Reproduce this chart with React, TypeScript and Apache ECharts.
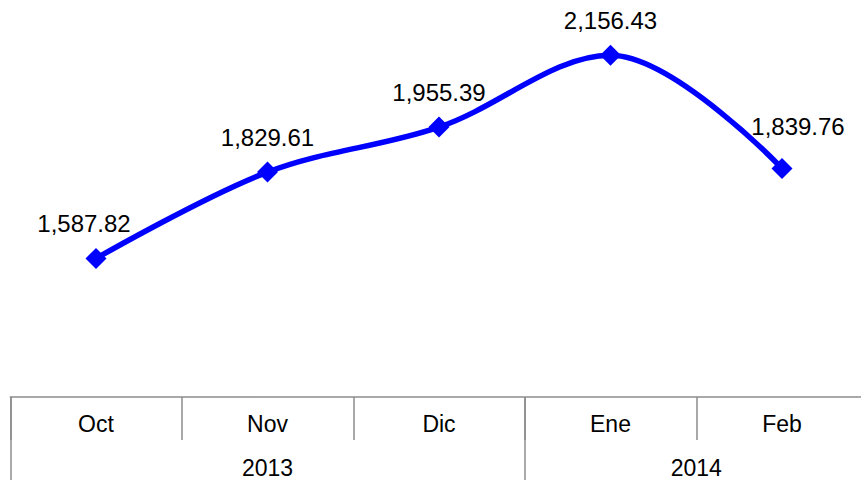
import React, { useEffect, useRef } from "react";
import * as echarts from "echarts";

const months = ["Oct", "Nov", "Dic", "Ene", "Feb"];
const values = [1587.82, 1829.61, 1955.39, 2156.43, 1839.76];
const years = ["2013", "2014"];
const yearSpans = [3, 2];

const FONT = "'Liberation Sans', Arial, sans-serif";

export default function App() {
  const ref = useRef<HTMLDivElement>(null);
  useEffect(() => {
    if (!ref.current) return;
    const chart = echarts.init(ref.current, null, { renderer: "svg" });

    const bounds: number[] = [0];
    const centers: number[] = [];
    yearSpans.forEach((s) => {
      const start = bounds[bounds.length - 1];
      centers.push(start + s / 2);
      bounds.push(start + s);
    });

    const fmt = (v: number) =>
      v.toLocaleString("en-US", { minimumFractionDigits: 2, maximumFractionDigits: 2 });

    const labelOffsets: Record<number, number[]> = { 0: [-12, 0], 4: [16, -7] };

    chart.setOption({
      animation: false,
      textStyle: { fontFamily: FONT },
      grid: { left: 10.25, width: 857.5, top: 4, bottom: 83, containLabel: false },
      xAxis: [
        {
          type: "category",
          data: months,
          position: "bottom",
          boundaryGap: true,
          axisLine: { show: true, lineStyle: { color: "#8c8c8c", width: 1.5 } },
          axisTick: { show: true, length: 43, lineStyle: { color: "#8c8c8c", width: 1.5 } },
          axisLabel: { color: "#000", fontSize: 23, fontFamily: FONT, margin: 15 },
          splitLine: { show: false },
        },
        {
          type: "value",
          min: 0,
          max: months.length,
          position: "bottom",
          axisLine: { show: false },
          axisTick: {
            show: true,
            customValues: bounds,
            length: 83,
            lineStyle: { color: "#8c8c8c", width: 1.5 },
          },
          axisLabel: {
            show: true,
            customValues: centers,
            color: "#000",
            fontSize: 23,
            fontFamily: FONT,
            margin: 59,
            formatter: (v: number) => {
              const i = centers.indexOf(v);
              return i >= 0 ? years[i] : "";
            },
          },
          splitLine: { show: false },
        },
      ],
      yAxis: {
        type: "value",
        min: 1200,
        max: 2300,
        show: false,
        splitLine: { show: false },
      },
      series: [
        {
          type: "line",
          xAxisIndex: 0,
          data: values.map((v, i) => ({
            value: v,
            label: labelOffsets[i] ? { offset: labelOffsets[i] } : undefined,
          })),
          smooth: 0.35,
          symbol: "diamond",
          symbolSize: 21,
          lineStyle: { color: "#0000ff", width: 5.5 },
          itemStyle: { color: "#0000ff" },
          label: {
            show: true,
            position: "top",
            distance: 12,
            color: "#000",
            fontSize: 24,
            fontFamily: FONT,
            formatter: (p: any) => fmt(p.value),
          },
        },
      ],
    });
    return () => chart.dispose();
  }, []);

  return (
    <div
      style={{
        position: "fixed",
        left: 0,
        top: 0,
        width: 861,
        height: 480,
        overflow: "hidden",
        background: "#fff",
      }}
    >
      <div ref={ref} style={{ width: 880, height: 480 }} />
    </div>
  );
}
